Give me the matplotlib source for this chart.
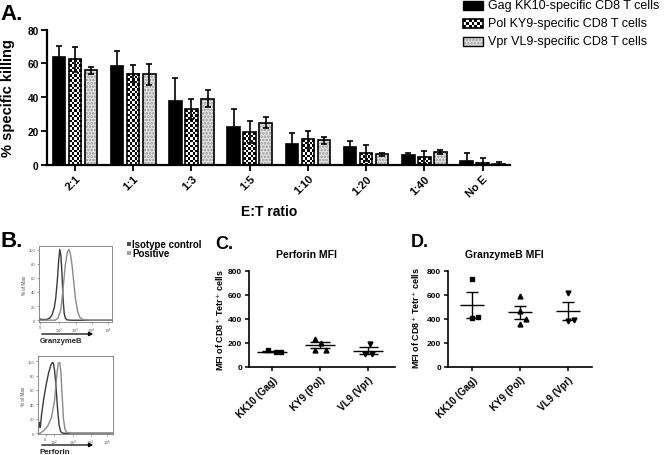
import matplotlib
matplotlib.use('Agg')
import matplotlib.pyplot as plt
from matplotlib.patches import Rectangle
import numpy as np

plt.rcParams['font.family'] = ['Liberation Sans', 'DejaVu Sans']
plt.rcParams['hatch.linewidth'] = 1.3

W, H = 664, 456

# ── Panel A data: % specific killing ──────────────────────────────────────────
ratios = ["2:1", "1:1", "1:3", "1:5", "1:10", "1:20", "1:40", "No E"]
gag = [64, 58.5, 37.5, 22.5, 12, 10.3, 5.7, 2]
gag_err = [6.5, 9, 14, 10.5, 6.5, 3.5, 1.4, 4.9]
pol = [62.5, 54, 33, 19.5, 15, 6.9, 4.3, 1.2]
pol_err = [7.5, 5, 6, 6.5, 5, 5, 4, 2.9]
vpr = [56, 53.5, 39, 25, 14.5, 6.1, 7.5, 0.6]
vpr_err = [2, 6, 5, 3, 2, 1, 1, 1]
legend_labels = ["Gag KK10-specific CD8 T cells", "Pol KY9-specific CD8 T cells",
                 "Vpr VL9-specific CD8 T cells"]

# ── Panel B data: flow histograms (x as fraction of axis, y as % of max) ─────
gzb_iso_x = [0.0, 0.05, 0.10, 0.15, 0.18, 0.21, 0.23, 0.25, 0.27, 0.285, 0.30, 0.315, 0.33, 0.345, 0.36, 0.38, 0.45, 1.0]
gzb_iso_y = [2, 1, 1, 3, 8, 18, 32, 55, 85, 100, 92, 65, 30, 10, 3, 0.5, 0, 0]
gzb_pos_x = [0.0, 0.22, 0.26, 0.30, 0.33, 0.36, 0.39, 0.41, 0.43, 0.45, 0.47, 0.50, 0.53, 0.56, 0.60, 0.70, 1.0]
gzb_pos_y = [0, 0, 3, 15, 45, 78, 97, 100, 94, 80, 60, 30, 12, 4, 1, 0, 0]
prf_iso_x = [0.0, 0.02, 0.03, 0.05, 0.08, 0.11, 0.14, 0.17, 0.19, 0.205, 0.22, 0.24, 0.26, 0.28, 0.30, 0.32, 0.35, 1.0]
prf_iso_y = [5, 15, 8, 28, 50, 68, 83, 94, 98, 97, 88, 65, 35, 12, 3, 0.5, 0, 0]
prf_pos_x = [0.0, 0.03, 0.08, 0.13, 0.18, 0.22, 0.25, 0.27, 0.29, 0.305, 0.32, 0.34, 0.36, 0.39, 0.45, 1.0]
prf_pos_y = [0, 0, 4, 10, 22, 45, 80, 97, 98, 85, 55, 20, 5, 1, 0, 0]

# ── Panels C/D data: MFI of CD8+ Tetr+ cells ─────────────────────────────────
epitopes = ["KK10 (Gag)", "KY9 (Pol)", "VL9 (Vpr)"]
perf_pts = [[140, 122, 122], [230, 203, 139, 139], [192, 111, 111]]
perf_jit = [[-0.08, 0.09, 0.19], [-0.1, 0.01, -0.1, 0.13], [0.03, -0.07, 0.09]]
perf_mean = [128, 180, 137]
perf_sem = [7, 25, 30]
gzb_pts = [[730, 405, 415], [590, 470, 400, 360], [620, 380, 395]]
gzb_jit = [[0, 0, 0.12], [0, 0, 0.12, 0], [0, 0, 0.12]]
gzb_mean = [517, 455, 465]
gzb_sem = [107, 52, 77]
markers = ["s", "^", "v"]

fig = plt.figure(figsize=(W / 100, H / 100), dpi=100)
fig.patch.set_facecolor("white")


def px_axes(l, t, r, b):
    return fig.add_axes([l / W, 1 - b / H, (r - l) / W, (b - t) / H])


def checker(ax, x0, x1, y0, y1, nx, ny):
    # checkerboard texture filling a rectangle
    tex = (np.add.outer(np.arange(ny), np.arange(nx)) % 2).astype(float)
    ax.imshow(tex, extent=(x0, x1, y0, y1), cmap="gray", vmin=0, vmax=1,
              interpolation="nearest", aspect="auto", zorder=2)


# ── Panel A ──────────────────────────────────────────────────────────────────
ax = px_axes(47, 30.7, 510, 165.7)
x = np.arange(len(ratios))
off, bw = 0.276, 0.215
px_per_unit = 135 / 80.0
cell = 2.5

ax.bar(x - off, gag, bw, color="black", edgecolor="black", linewidth=1.2, zorder=3)
for xi, v in zip(x, pol):
    hpx = v * px_per_unit
    if hpx > 1:
        checker(ax, xi - bw / 2, xi + bw / 2, 0, v, 5, max(1, int(round(hpx / cell))))
ax.bar(x, pol, bw, fill=False, edgecolor="black", linewidth=1.2, zorder=3)
ax.bar(x + off, vpr, bw, color="#e4e4e4", edgecolor="#9a9a9a", hatch=".....",
       linewidth=0, zorder=2)
ax.bar(x + off, vpr, bw, fill=False, edgecolor="black", linewidth=1.2, zorder=3)

for vals, errs, dx in [(gag, gag_err, -off), (pol, pol_err, 0), (vpr, vpr_err, off)]:
    ax.errorbar(x + dx, vals, yerr=errs, fmt="none", ecolor="black", elinewidth=1.2,
                capsize=2.5, capthick=1.2, zorder=5)
ax.set_xlim(-0.48, 7.47)
ax.set_ylim(0, 80)
ax.set_yticks([0, 20, 40, 60, 80])
ax.set_xticks(x)
ax.set_xticklabels(ratios, rotation=45, ha="right", rotation_mode="anchor",
                   fontsize=8, fontweight="bold")
for lab in ax.get_yticklabels():
    lab.set_fontweight("bold")
    lab.set_fontsize(7.3)
ax.tick_params(width=1.3, length=4, pad=2)
ax.spines[["top", "right"]].set_visible(False)
ax.spines[["left", "bottom"]].set_linewidth(1.6)
ax.set_facecolor("none")

# overlay for free text / legends in pixel coordinates
ov = fig.add_axes([0, 0, 1, 1], zorder=10)
ov.set_xlim(0, W)
ov.set_ylim(H, 0)
ov.axis("off")
ov.patch.set_alpha(0)

ov.text(0, 15, "A.", fontsize=16, fontweight="bold", va="center", ha="left")
ov.text(8, 98, "% specific killing", fontsize=10.5, fontweight="bold", rotation=90,
        va="center", ha="center")
ov.text(269, 212, "E:T ratio", fontsize=10, fontweight="bold", va="center", ha="center")

# legend A
for i, lab in enumerate(legend_labels):
    yc = 6.5 + i * 17.8
    y0, y1 = yc - 4.5, yc + 4.5
    if i == 0:
        ov.add_patch(Rectangle((463, y0), 20, 9, facecolor="black", edgecolor="black", lw=1))
    elif i == 1:
        ov.imshow((np.add.outer(np.arange(3), np.arange(7)) % 2).astype(float),
                  extent=(463, 483, y1, y0), cmap="gray", vmin=0, vmax=1,
                  interpolation="nearest", aspect="auto")
        ov.add_patch(Rectangle((463, y0), 20, 9, fill=False, edgecolor="black", lw=1.2))
    else:
        ov.add_patch(Rectangle((463, y0), 20, 9, facecolor="#e4e4e4", edgecolor="#9a9a9a",
                               hatch=".....", lw=0))
        ov.add_patch(Rectangle((463, y0), 20, 9, fill=False, edgecolor="black", lw=1))
    ov.text(488, yc, lab, fontsize=9, va="center", ha="left")
ov.set_xlim(0, W)
ov.set_ylim(H, 0)

# ── Panel B ──────────────────────────────────────────────────────────────────
ov.text(0, 242, "B.", fontsize=16, fontweight="bold", va="center", ha="left")
ov.add_patch(Rectangle((127, 243), 4, 4, facecolor="#505050", lw=0))
ov.add_patch(Rectangle((127, 252), 4, 4, facecolor="#a0a0a0", lw=0))
ov.text(132, 245, "Isotype control", fontsize=7, fontweight="bold", va="center", ha="left")
ov.text(132, 254, "Positive", fontsize=7, fontweight="bold", va="center", ha="left")

hist_specs = [
    ((39, 247, 112, 323), gzb_iso_x, gzb_iso_y, gzb_pos_x, gzb_pos_y,
     [0.02, 0.27, 0.50, 0.72, 0.94], (-2.5, 105), "GranzymeB", 335, 5.5),
    ((38, 357, 113, 435), prf_iso_x, prf_iso_y, prf_pos_x, prf_pos_y,
     [0.10, 0.21, 0.47, 0.70, 0.92], (-1, 107), "Perforin", 446, 5.8),
]
for box, ix, iy, px, py, xt, ylim, name, ay, fs in hist_specs:
    hx = px_axes(*box)
    hx.plot(ix, iy, color="#3a3a3a", lw=1.0)
    hx.plot(px, py, color="#8a8a8a", lw=1.0)
    hx.set_xlim(0, 1)
    hx.set_ylim(*ylim)
    hx.set_yticks([0, 20, 40, 60, 80, 100])
    hx.set_xticks(xt)
    hx.set_xticklabels(["0", "10$^2$", "10$^3$", "10$^4$", "10$^5$"])
    hx.tick_params(labelsize=3, length=1.5, width=0.4, pad=1, colors="#555555")
    hx.set_ylabel("% of Max", fontsize=3.3, labelpad=1, color="#444444")
    for s in hx.spines.values():
        s.set_linewidth(0.6)
        s.set_color("#777777")
    ov.annotate("", xy=(96, ay), xytext=(39, ay),
                arrowprops=dict(arrowstyle="-|>", color="black", lw=0.9, mutation_scale=6))
    ov.text(40, ay + 6.5, name, fontsize=fs, fontweight="bold", va="center", ha="left",
            color="#222222")

# ── Panels C and D ───────────────────────────────────────────────────────────
mfi_specs = [
    ((249, 272, 395, 368), (-0.48, 2.56), perf_pts, perf_jit, perf_mean, perf_sem,
     (0.32, 0.2), "C.", (215, 245), "Perforin MFI", (306, 255), (220, 320)),
    ((448, 272, 592, 368), (-0.5, 2.5), gzb_pts, gzb_jit, gzb_mean, gzb_sem,
     (0.25, 0.13), "D.", (411, 243), "GranzymeB MFI", (504, 255), (416, 318)),
]
for box, xlim, pts, jit, means, sems, (mw, sw), letter, lpos, title, tpos, ypos in mfi_specs:
    mx = px_axes(*box)
    for i in range(3):
        mx.plot(np.array(jit[i]) + i, pts[i], linestyle="none", marker=markers[i],
                color="black", markersize=3.5, zorder=4)
        mx.hlines(means[i], i - mw, i + mw, color="black", lw=1)
        mx.hlines([means[i] - sems[i], means[i] + sems[i]], i - sw, i + sw,
                  color="black", lw=1)
        mx.vlines(i, means[i] - sems[i], means[i] + sems[i], color="black", lw=1)
    mx.set_xlim(*xlim)
    mx.set_ylim(0, 800)
    mx.set_yticks([0, 200, 400, 600, 800])
    mx.set_xticks([0, 1, 2])
    mx.set_xticklabels(epitopes, rotation=45, ha="right", rotation_mode="anchor",
                       fontsize=7, fontweight="bold")
    for lab in mx.get_yticklabels():
        lab.set_fontweight("bold")
        lab.set_fontsize(6)
    mx.tick_params(width=1.1, length=3, pad=2)
    mx.spines[["top", "right"]].set_visible(False)
    mx.spines[["left", "bottom"]].set_linewidth(1.2)
    mx.set_facecolor("none")
    ov.text(lpos[0], lpos[1], letter, fontsize=13, fontweight="bold", va="center", ha="left")
    ov.text(tpos[0], tpos[1], title, fontsize=7.5, fontweight="bold", va="center", ha="center")
    ov.text(ypos[0], ypos[1], "MFI of CD8$^{+}$ Tetr$^{+}$ cells", fontsize=6.5,
            fontweight="bold", rotation=90, va="center", ha="center")

fig.savefig("out.png", dpi=100, facecolor="white")
